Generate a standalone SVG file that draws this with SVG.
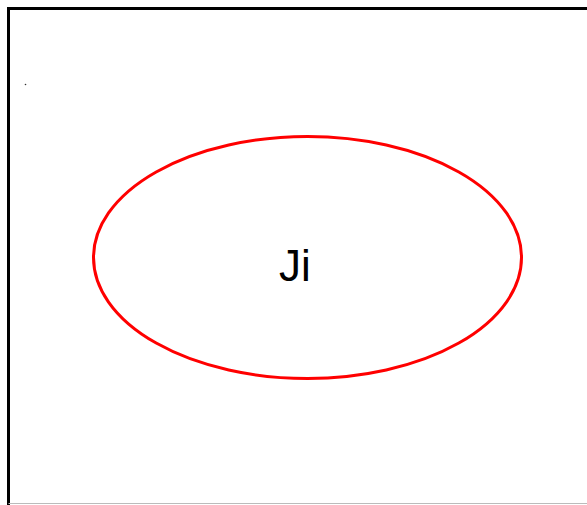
<svg xmlns="http://www.w3.org/2000/svg" width="587" height="505" viewBox="0 0 587 505">
<style>
.frame{fill:none;stroke:#000;stroke-width:3}
.ell{fill:none;stroke:#ff0000;stroke-width:3}
.lbl{font-family:"Liberation Sans",Arial,sans-serif;font-size:44px;fill:#000;text-anchor:middle}
</style>
<rect width="587" height="505" fill="#fff"/>
<g id="frame">
<rect class="frame" x="8.5" y="8.5" width="600" height="520"/>
<line x1="8.5" y1="503.5" x2="587" y2="503.5" stroke="#bbb" stroke-width="1"/>
<circle cx="25.5" cy="84.5" r="0.8" fill="#333"/>
</g>
<g id="node-ji">
<ellipse class="ell" cx="307.5" cy="257.5" rx="214" ry="121"/>
<text class="lbl" x="295" y="281">Ji</text>
</g>
</svg>
